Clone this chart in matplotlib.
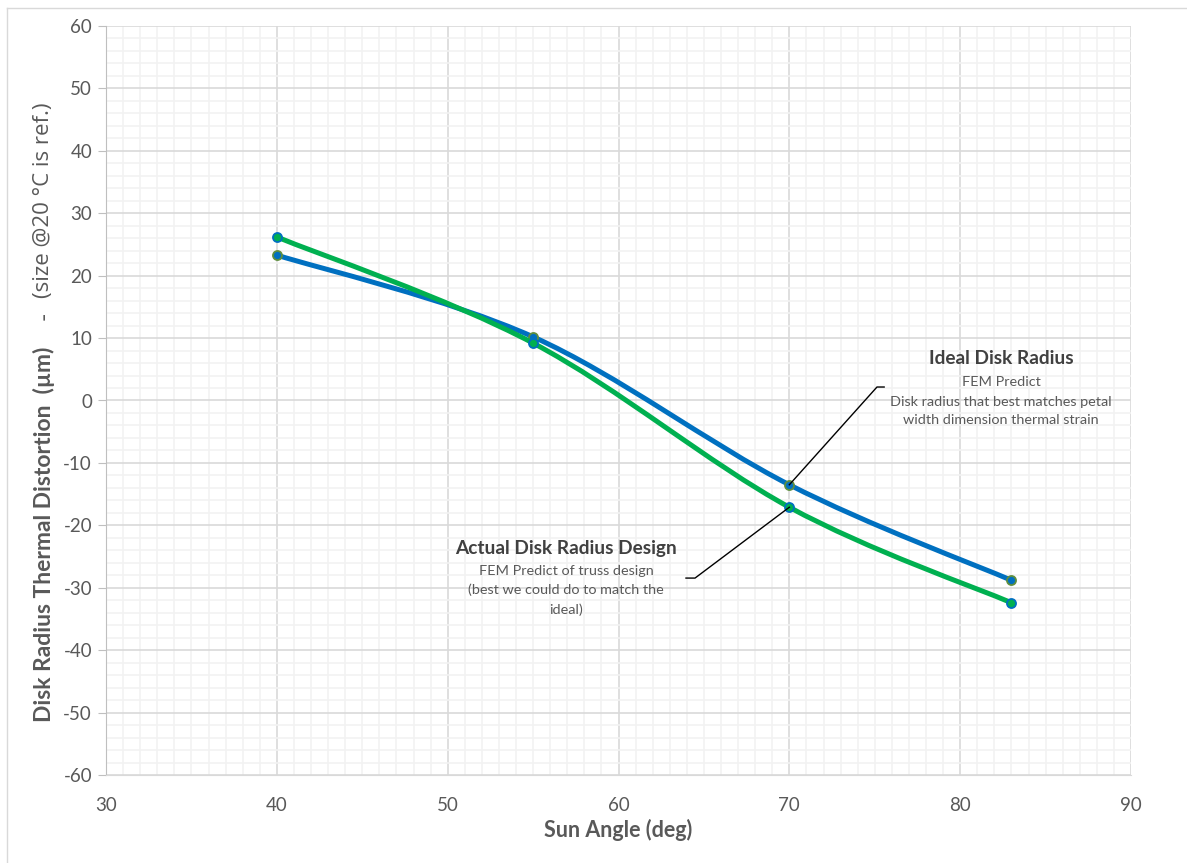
import matplotlib
matplotlib.use("Agg")
import matplotlib.pyplot as plt
from matplotlib.path import Path
from matplotlib.patches import PathPatch
import numpy as np

plt.rcParams['font.family'] = ['Lato', 'DejaVu Sans']

sun_angle = [40, 55, 70, 83]
ideal_radius = [23.3, 10.2, -13.5, -28.8]
actual_radius = [26.2, 9.2, -17.1, -32.4]

x_ticks = [30, 40, 50, 60, 70, 80, 90]
y_ticks = [-60, -50, -40, -30, -20, -10, 0, 10, 20, 30, 40, 50, 60]

BLUE = '#0070C0'
GREEN = '#00B050'
OLIVE = '#5E8E3E'
DARK = '#404040'
MID = '#595959'

fig = plt.figure(figsize=(11.87, 8.63), dpi=100)
ax = fig.add_axes([106/1187, 1-775/863, (1131-106)/1187, (775-26)/863])

ax.set_xlim(30, 90)
ax.set_ylim(-60, 60)
ax.set_xticks(x_ticks)
ax.set_yticks(y_ticks)
ax.set_xticks(np.arange(30, 91, 1), minor=True)
ax.set_yticks(np.arange(-60, 61, 2), minor=True)
ax.grid(which='major', color='#D9D9D9', lw=1.2)
ax.grid(which='minor', color='#F2F2F2', lw=1.2)
ax.set_axisbelow(True)
for s in ['top', 'right']:
    ax.spines[s].set_visible(False)
ax.spines['left'].set_color('#BFBFBF')
ax.spines['bottom'].set_color('#D9D9D9')
ax.tick_params(axis='y', which='major', length=6, color='#BFBFBF', labelsize=13.5, labelcolor=MID, pad=4)
ax.tick_params(axis='x', which='major', length=0, labelsize=13.5, labelcolor=MID, pad=16)
ax.tick_params(which='minor', length=0)
ax.set_xticklabels([str(v) for v in x_ticks])
ax.set_yticklabels([str(v) for v in y_ticks])


def smooth_path(xs, ys):
    pts = np.column_stack([xs, ys]).astype(float)
    n = len(pts)
    verts = [pts[0]]
    codes = [Path.MOVETO]
    for i in range(n - 1):
        p0 = pts[i - 1] if i > 0 else pts[i]
        p1 = pts[i]
        p2 = pts[i + 1]
        p3 = pts[i + 2] if i + 2 < n else pts[i + 1]
        c1 = p1 + (p2 - p0) / 6.0
        c2 = p2 - (p3 - p1) / 6.0
        verts += [c1, c2, p2]
        codes += [Path.CURVE4] * 3
    return Path(verts, codes)


ax.add_patch(PathPatch(smooth_path(sun_angle, ideal_radius), fill=False, ec=BLUE, lw=3.6, capstyle='round', zorder=3))
ax.plot(sun_angle, ideal_radius, ls='none', marker='o', ms=6.5, mfc=BLUE, mec=OLIVE, mew=1.3, zorder=4)
ax.add_patch(PathPatch(smooth_path(sun_angle, actual_radius), fill=False, ec=GREEN, lw=3.6, capstyle='round', zorder=5))
ax.plot(sun_angle, actual_radius, ls='none', marker='o', ms=6.5, mfc=GREEN, mec=BLUE, mew=1.3, zorder=6)

# leader lines
ax.plot([sun_angle[2], 75.13, 75.55], [ideal_radius[2], 2.16, 2.16], color='black', lw=1.0, zorder=7)
ax.plot([sun_angle[2], 64.48, 63.95], [actual_radius[2], -28.45, -28.45], color='black', lw=1.0, zorder=7)

# annotations
ax.text(82.39, 6.65, 'Ideal Disk Radius', ha='center', va='center', fontsize=13.7, fontweight='bold', color=DARK, zorder=8)
for yy, t in zip([2.96, -0.24, -3.13], ['FEM Predict', 'Disk radius that best matches petal', 'width dimension thermal strain']):
    ax.text(82.39, yy, t, ha='center', va='center', fontsize=10.4, color=MID, zorder=8)

ax.text(56.93, -23.64, 'Actual Disk Radius Design', ha='center', va='center', fontsize=13.7, fontweight='bold', color=DARK, zorder=8)
for yy, t in zip([-27.32, -30.37, -33.57], ['FEM Predict of truss design', '(best we could do to match the', 'ideal)']):
    ax.text(56.93, yy, t, ha='center', va='center', fontsize=10.4, color=MID, zorder=8)

# axis titles
fig.text(618/1187, 1-830/863, 'Sun Angle (deg)', ha='center', va='center', fontsize=15.5, fontweight='bold', color=MID)
fig.text(44/1187, 1-722/863, 'Disk Radius Thermal Distortion  (\u00b5m)', rotation=90, rotation_mode='anchor',
         ha='left', va='center', fontsize=16.5, fontweight='bold', color=MID)
fig.text(44/1187, 1-316/863, '-', rotation=90, rotation_mode='anchor',
         ha='center', va='center', fontsize=16.5, color=MID)
fig.text(44/1187, 1-298/863, '(size @20 \u00b0C is ref.)', rotation=90, rotation_mode='anchor',
         ha='left', va='center', fontsize=16, color=MID, family=['Open Sans', 'DejaVu Sans'])

# chart border
fig.add_artist(plt.Line2D([7/1187, 7/1187], [0, 1-8/863], transform=fig.transFigure, color='#D9D9D9', lw=1))
fig.add_artist(plt.Line2D([7/1187, 1], [1-8/863, 1-8/863], transform=fig.transFigure, color='#D9D9D9', lw=1))

fig.savefig('out.png', dpi=100)
